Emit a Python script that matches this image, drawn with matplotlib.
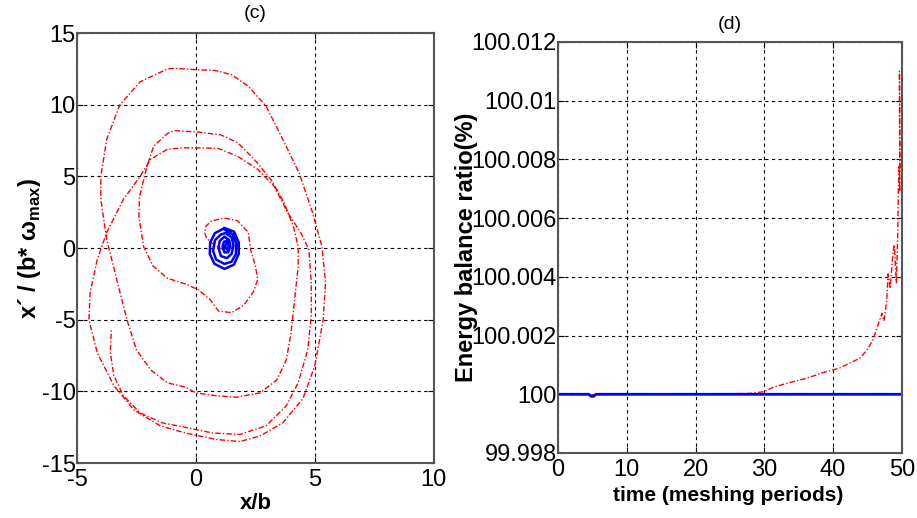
# 位相図とエネルギー収支比の再現
import numpy as np
import matplotlib
matplotlib.use("Agg")
import matplotlib.pyplot as plt

plt.rcParams["font.family"] = ["Liberation Sans", "DejaVu Sans"]
plt.rcParams["mathtext.fontset"] = "custom"
plt.rcParams["mathtext.bf"] = "Liberation Sans:bold"
plt.rcParams["mathtext.rm"] = "Liberation Sans"
plt.rcParams["axes.unicode_minus"] = False

# (c) 赤の軌道 (x/b, x'/(b*w))
red_x = [1.22, 0.95, 0.67, 0.45, 0.38, 0.40, 0.66, 1.20, 1.76, 2.20, 2.30, 2.50, 2.60, 2.40, 2.00,
         1.50, 0.95, 0.60, 0.10, -0.45, -1.20, -1.80, -2.20, -2.40, -2.37, -2.06, -1.78, -1.20, -0.90,
         0.10, 1.05, 1.76, 2.45, 3.15, 3.70, 4.10, 4.30, 4.30, 4.15, 4.00, 3.80, 3.40, 2.70, 1.70,
         0.85, 0.00, -0.45, -1.20, -1.90, -2.50, -2.90, -3.30, -3.75, -4.00, -4.00, -3.75, -3.20,
         -2.35, -1.20, -0.90, 0.00, 0.80, 1.50, 2.20, 2.95, 3.65, 4.35, 4.90, 5.30, 5.45, 5.35, 5.00,
         4.50, 3.65, 2.70, 1.85, 0.85, -0.45, -1.50, -2.60, -3.45, -4.15, -4.50, -4.45, -4.15, -3.75,
         -3.05, -2.35, -1.90, -1.20, -0.55, 0.10, 0.95, 1.76, 2.60, 3.30, 3.85, 4.40, 4.75, 4.85,
         4.85, 4.70, 4.30, 3.80, 2.95, 1.85, 0.70, -0.45, -1.40, -2.35, -3.05, -3.45, -3.60, -3.56]
red_y = [-0.14, 0.05, 0.35, 0.70, 1.00, 1.50, 1.90, 2.10, 1.90, 1.10, -0.10, -1.25, -2.20, -3.10, -4.00,
         -4.50, -4.40, -3.60, -2.90, -2.50, -2.10, -1.25, 0.10, 2.20, 3.60, 5.70, 7.10, 8.00, 8.20,
         8.10, 7.90, 7.35, 6.20, 4.80, 3.20, 1.50, 0.10, -1.25, -3.60, -5.90, -7.80, -9.20, -10.10, -10.40,
         -10.30, -10.10, -9.70, -9.40, -8.50, -7.10, -5.00, -2.40, 0.60, 3.40, 5.00, 7.60, 10.00,
         11.60, 12.50, 12.55, 12.45, 12.40, 12.10, 11.30, 9.90, 7.60, 5.20, 2.50, 0.10, -2.40, -5.00, -8.20,
         -10.50, -12.20, -13.10, -13.50, -13.35, -12.90, -12.40, -11.30, -9.60, -7.30, -5.00, -3.10, -0.80, 1.10,
         3.40, 5.00, 6.20, 6.90, 7.00, 7.00, 6.95, 6.40, 5.50, 4.30, 2.50, 1.10, -0.10, -2.40,
         -4.70, -7.10, -9.40, -11.00, -12.40, -13.00, -12.90, -12.50, -12.20, -11.50, -10.30, -8.90, -7.30, -5.70]

# (c) 青の軌道 (中心付近の渦巻き)
blue_x = [1.20, 1.60, 1.80, 1.80, 1.60, 1.20, 0.78, 0.58, 0.60, 0.80, 1.15,
          1.55, 1.70, 1.68, 1.50, 1.20, 0.85, 0.72, 0.80, 1.05, 1.25,
          1.50, 1.58, 1.50, 1.30, 1.05, 0.95, 1.00, 1.20,
          1.40, 1.45, 1.35, 1.20, 1.12, 1.18, 1.30,
          1.38, 1.30, 1.22, 1.28]
blue_y = [1.40, 1.15, 0.40, -0.40, -1.15, -1.45, -1.10, -0.40, 0.40, 1.05, 1.35,
          0.95, 0.30, -0.40, -0.95, -1.10, -0.80, -0.20, 0.55, 0.95, 1.05,
          0.75, 0.20, -0.40, -0.70, -0.55, 0.00, 0.50, 0.80,
          0.55, 0.10, -0.30, -0.30, 0.10, 0.45, 0.50,
          0.20, -0.10, 0.10, 0.30]

# (d) エネルギー収支比
red_t = [0, 5, 10, 20, 25, 28, 30, 31.3, 33.7, 36.2, 38.6, 40, 40.9, 42.4, 43.9, 44.9, 45.8, 46.3,
         47.1, 47.4, 47.8, 48.0, 48.3, 48.7, 48.9, 49.2, 49.4, 49.5, 49.6, 49.7, 49.65, 49.7]
red_e = [100.0, 99.99998, 100.0, 100.0, 100.00002, 100.00003, 100.00009, 100.00024, 100.0004,
         100.00055, 100.00074, 100.00083, 100.00089, 100.00106, 100.00123, 100.0015, 100.00185,
         100.0022, 100.00276, 100.0025, 100.0032, 100.0041, 100.0036, 100.0048, 100.0051,
         100.0038, 100.0055, 100.0071, 100.0078, 100.0069, 100.011, 100.0075]
blue_t = [0, 4.5, 4.8, 5.2, 5.5, 50]
blue_e = [100.0, 100.0, 99.99993, 99.99993, 100.0, 100.0]

x_ticks_c = [-5, 0, 5, 10]
y_ticks_c = [-15, -10, -5, 0, 5, 10, 15]
x_ticks_d = [0, 10, 20, 30, 40, 50]
y_ticks_d = [99.998, 100.0, 100.002, 100.004, 100.006, 100.008, 100.01, 100.012]
y_labels_d = ["99.998", "100", "100.002", "100.004", "100.006", "100.008", "100.01", "100.012"]

NARROW = ["Liberation Sans Narrow", "Liberation Sans", "DejaVu Sans"]
TICK_SIZE = 17
DASH_DOT = (0, (4, 1.5, 1, 1.5))


def style(ax):
    """MATLAB風の軸スタイル"""
    ax.grid(True, color="black", linestyle=(0, (3, 3)), linewidth=0.8)
    ax.tick_params(direction="in", length=4, top=True, right=True, pad=4)
    ax.tick_params(axis="y", pad=1)
    for lab in ax.get_xticklabels() + ax.get_yticklabels():
        lab.set_family(NARROW)
        lab.set_fontsize(TICK_SIZE)
    for s in ax.spines.values():
        s.set_color("#555555")
        s.set_linewidth(1.5)


fig = plt.figure(figsize=(9.17, 5.18), dpi=100)

# (c) 位相図
ax1 = fig.add_axes([0.084, 0.106, 0.389, 0.830])
ax1.plot(red_x, red_y, color="red", linestyle=DASH_DOT, linewidth=1.0)
ax1.plot(blue_x, blue_y, color="blue", linewidth=1.8)
ax1.set_xlim(-5, 10)
ax1.set_ylim(-15, 15)
ax1.set_xticks(x_ticks_c)
ax1.set_yticks(y_ticks_c)
style(ax1)
ax1.set_xlabel("x/b", fontsize=16, fontweight="bold")
ax1.set_ylabel(r"x´ / (b* ω$_{\bf max}$)", fontsize=17, fontweight="bold")
ax1.xaxis.set_label_coords(0.5, -0.07)
ax1.yaxis.set_label_coords(-0.134, 0.5)
ax1.yaxis.label.set_va("center")
ax1.set_title("(c)", fontsize=14, family=NARROW, pad=11)

# (d) エネルギー収支比
ax2 = fig.add_axes([0.6085, 0.1255, 0.375, 0.7935])
ax2.plot(red_t, red_e, color="red", linestyle=DASH_DOT, linewidth=1.0)
ax2.plot(blue_t, blue_e, color="blue", linewidth=2.0)
ax2.set_xlim(0, 50)
ax2.set_ylim(99.998, 100.012)
ax2.set_xticks(x_ticks_d)
ax2.set_yticks(y_ticks_d)
ax2.set_yticklabels(y_labels_d)
style(ax2)
ax2.set_xlabel("time (meshing periods)", fontsize=15, fontweight="bold")
ax2.set_ylabel("Energy balance ratio(%)", fontsize=17, fontweight="bold")
ax2.xaxis.set_label_coords(0.494, -0.08)
ax2.yaxis.set_label_coords(-0.265, 0.5)
ax2.yaxis.label.set_va("center")
ax2.set_title("(d)", fontsize=14, family=NARROW, pad=9)

fig.savefig("out.png", dpi=100)
